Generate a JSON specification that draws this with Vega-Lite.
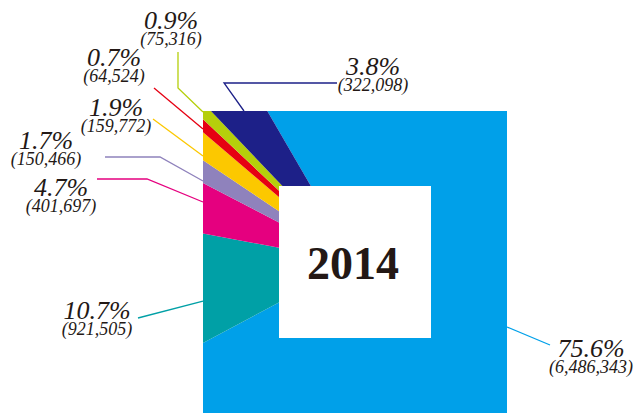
{
  "$schema": "https://vega.github.io/schema/vega-lite/v6.json",
  "width": 304,
  "height": 302,
  "autosize": {"type": "none"},
  "padding": {"left": 203, "top": 111, "right": 130, "bottom": 0},
  "background": "white",
  "config": {"view": {"stroke": null}},
  "datasets": {
    "slices": [
      {"cat": "c1", "idx": 1, "value": 6486343},
      {"cat": "c2", "idx": 2, "value": 921505},
      {"cat": "c3", "idx": 3, "value": 401697},
      {"cat": "c4", "idx": 4, "value": 150466},
      {"cat": "c5", "idx": 5, "value": 159772},
      {"cat": "c6", "idx": 6, "value": 64524},
      {"cat": "c7", "idx": 7, "value": 75316},
      {"cat": "c8", "idx": 8, "value": 322098}
    ],
    "labels": [
      {"cat": "c1", "u": 1.5526, "v": -0.6250, "pct": "75.6%", "cnt": "(6,486,343)"},
      {"cat": "c2", "u": -1.6974, "v": -0.3750, "pct": "10.7%", "cnt": "(921,505)"},
      {"cat": "c3", "u": -1.9342, "v": 0.4342, "pct": "4.7%", "cnt": "(401,697)"},
      {"cat": "c4", "u": -2.0329, "v": 0.7434, "pct": "1.7%", "cnt": "(150,466)"},
      {"cat": "c5", "u": -1.5724, "v": 0.9605, "pct": "1.9%", "cnt": "(159,772)"},
      {"cat": "c6", "u": -1.5855, "v": 1.2895, "pct": "0.7%", "cnt": "(64,524)"},
      {"cat": "c7", "u": -1.2105, "v": 1.5329, "pct": "0.9%", "cnt": "(75,316)"},
      {"cat": "c8", "u": 0.1184, "v": 1.2303, "pct": "3.8%", "cnt": "(322,098)"}
    ],
    "leaders": [
      {"cat": "c1", "i": 0, "u": 1.0, "v": -0.4276},
      {"cat": "c1", "i": 1, "u": 1.2829, "v": -0.5461},
      {"cat": "c2", "i": 0, "u": -1.4276, "v": -0.3684},
      {"cat": "c2", "i": 1, "u": -1.0, "v": -0.2566},
      {"cat": "c3", "i": 0, "u": -1.6974, "v": 0.5461},
      {"cat": "c3", "i": 1, "u": -1.3684, "v": 0.5461},
      {"cat": "c3", "i": 2, "u": -1.0, "v": 0.3947},
      {"cat": "c4", "i": 0, "u": -1.6447, "v": 0.6908},
      {"cat": "c4", "i": 1, "u": -1.2829, "v": 0.6908},
      {"cat": "c4", "i": 2, "u": -1.0, "v": 0.5329},
      {"cat": "c5", "i": 0, "u": -1.3289, "v": 0.9408},
      {"cat": "c5", "i": 1, "u": -1.0, "v": 0.6974},
      {"cat": "c6", "i": 0, "u": -1.3224, "v": 1.1447},
      {"cat": "c6", "i": 1, "u": -1.0, "v": 0.875},
      {"cat": "c7", "i": 0, "u": -1.1645, "v": 1.3816},
      {"cat": "c7", "i": 1, "u": -1.1645, "v": 1.1447},
      {"cat": "c7", "i": 2, "u": -1.0, "v": 0.9868},
      {"cat": "c8", "i": 0, "u": -0.1184, "v": 1.1776},
      {"cat": "c8", "i": 1, "u": -0.8618, "v": 1.1776},
      {"cat": "c8", "i": 2, "u": -0.7303, "v": 0.9934}
    ]
  },
  "layer": [
    {
      "data": {"name": "slices"},
      "mark": {"type": "arc", "outerRadius": 240, "clip": true},
      "encoding": {
        "theta": {"field": "value", "type": "quantitative", "stack": true, "scale": {"range": [-0.5262, 5.757]}},
        "order": {"field": "idx", "type": "quantitative"},
        "color": {
          "field": "cat", "type": "nominal", "legend": null,
          "scale": {
            "domain": ["c1", "c2", "c3", "c4", "c5", "c6", "c7", "c8"],
            "range": ["#00A0E9", "#00A0A6", "#E5007F", "#8F82BC", "#FCC800", "#E60012", "#B5CF0B", "#1D2088"]
          }
        }
      }
    },
    {
      "data": {"values": [{"year": "2014"}]},
      "mark": {"type": "point", "shape": "square", "size": 23104, "filled": true, "color": "white", "opacity": 1, "strokeWidth": 0},
      "encoding": {}
    },
    {
      "data": {"values": [{"year": "2014"}]},
      "mark": {"type": "text", "font": "Liberation Serif", "fontWeight": "bold", "fontSize": 46, "color": "#231815", "align": "center", "baseline": "alphabetic", "dx": -2, "dy": 17},
      "encoding": {"text": {"field": "year", "type": "nominal"}}
    },
    {
      "data": {"name": "leaders"},
      "mark": {"type": "line", "strokeWidth": 1.3, "clip": false},
      "encoding": {
        "x": {"field": "u", "type": "quantitative", "axis": null, "scale": {"domain": [-1, 1], "nice": false, "zero": false}},
        "y": {"field": "v", "type": "quantitative", "axis": null, "scale": {"domain": [-0.9934, 0.9934], "nice": false, "zero": false}},
        "detail": {"field": "cat", "type": "nominal"},
        "order": {"field": "i", "type": "quantitative"},
        "color": {
          "field": "cat", "type": "nominal", "legend": null,
          "scale": {
            "domain": ["c1", "c2", "c3", "c4", "c5", "c6", "c7", "c8"],
            "range": ["#00A0E9", "#00A0A6", "#E5007F", "#8F82BC", "#FCC800", "#E60012", "#B5CF0B", "#1D2088"]
          }
        }
      }
    },
    {
      "data": {"name": "labels"},
      "mark": {"type": "text", "font": "Liberation Serif", "fontStyle": "italic", "fontSize": 26, "color": "#231815", "align": "center", "baseline": "alphabetic", "clip": false},
      "encoding": {
        "x": {"field": "u", "type": "quantitative", "axis": null, "scale": {"domain": [-1, 1], "nice": false, "zero": false}},
        "y": {"field": "v", "type": "quantitative", "axis": null, "scale": {"domain": [-0.9934, 0.9934], "nice": false, "zero": false}},
        "text": {"field": "pct", "type": "nominal"}
      }
    },
    {
      "data": {"name": "labels"},
      "mark": {"type": "text", "font": "Liberation Serif", "fontStyle": "italic", "fontSize": 18, "color": "#231815", "align": "center", "baseline": "alphabetic", "dy": 16, "clip": false},
      "encoding": {
        "x": {"field": "u", "type": "quantitative", "axis": null, "scale": {"domain": [-1, 1], "nice": false, "zero": false}},
        "y": {"field": "v", "type": "quantitative", "axis": null, "scale": {"domain": [-0.9934, 0.9934], "nice": false, "zero": false}},
        "text": {"field": "cnt", "type": "nominal"}
      }
    }
  ]
}
